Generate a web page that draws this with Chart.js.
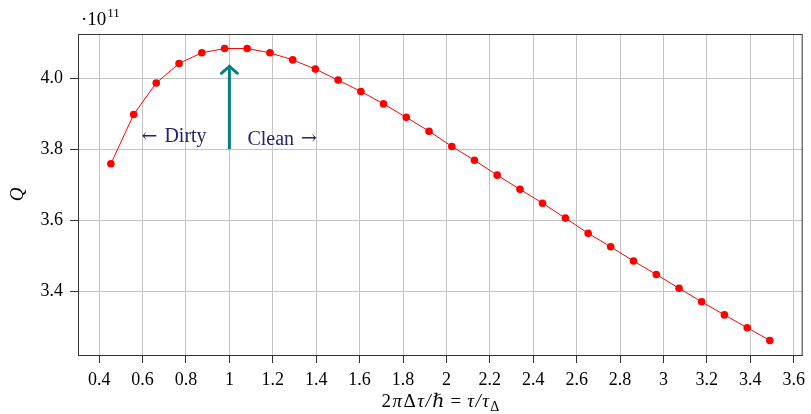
<!DOCTYPE html>
<html>
<head>
<meta charset="utf-8">
<script src="https://cdn.jsdelivr.net/npm/chart.js@4.4.0/dist/chart.umd.min.js"></script>
<style>
  body { margin: 0; background: #fff; }
  canvas { display: block; }
</style>
</head>
<body>
<canvas id="chart" width="811" height="414"></canvas>
<script>
// tau / tau_Delta values
const xValues = [0.454, 0.559, 0.663, 0.768, 0.873, 0.978, 1.082, 1.187, 1.292, 1.396,
                 1.501, 1.606, 1.710, 1.815, 1.920, 2.025, 2.129, 2.234, 2.339, 2.443,
                 2.548, 2.653, 2.757, 2.862, 2.967, 3.072, 3.176, 3.281, 3.386, 3.490];
// Q in units of 1e11
const qValues = [3.759, 3.898, 3.987, 4.042, 4.072, 4.084, 4.084, 4.072, 4.052, 4.026,
                 3.995, 3.963, 3.928, 3.890, 3.851, 3.808, 3.769, 3.727, 3.687, 3.648,
                 3.606, 3.563, 3.525, 3.485, 3.447, 3.408, 3.370, 3.333, 3.297, 3.261];
const xTicks = [0.4, 0.6, 0.8, 1, 1.2, 1.4, 1.6, 1.8, 2, 2.2, 2.4, 2.6, 2.8, 3, 3.2, 3.4, 3.6];
const yTicks = [3.4, 3.6, 3.8, 4.0];
const arrowX = 1;
const arrowFrom = 3.8;
const arrowTo = 4.034;

const FONT = '"Liberation Serif", "DejaVu Serif", serif';
const points = xValues.map((x, i) => ({ x: x, y: qValues[i] }));

// draw a list of [text, font, dy, gapAfter] pieces from x, return end x
function drawPieces(ctx, pieces, x, y, measureOnly) {
  pieces.forEach(p => {
    ctx.font = p[1];
    if (!measureOnly) ctx.fillText(p[0], x, y + (p[2] || 0));
    x += ctx.measureText(p[0]).width + (p[3] || 0);
  });
  return x;
}

const extras = {
  id: 'extras',
  afterDatasetsDraw(chart) {
    const ctx = chart.ctx;
    const xs = chart.scales.x, ys = chart.scales.y;
    const a = chart.chartArea;

    // frame
    ctx.save();
    ctx.strokeStyle = '#333';
    ctx.lineWidth = 1;
    ctx.strokeRect(a.left + 0.5, a.top + 0.5, a.right - a.left - 1, a.bottom - a.top);

    // teal arrow
    const ax = xs.getPixelForValue(arrowX);
    const y0 = ys.getPixelForValue(arrowFrom);
    const y1 = ys.getPixelForValue(arrowTo);
    ctx.strokeStyle = '#008080';
    ctx.lineWidth = 3;
    ctx.lineCap = 'butt';
    ctx.beginPath();
    ctx.moveTo(ax, y0);
    ctx.lineTo(ax, y1 + 1);
    ctx.stroke();
    ctx.lineCap = 'round';
    ctx.beginPath();
    ctx.moveTo(ax - 8, y1 + 7);
    ctx.quadraticCurveTo(ax - 2, y1 + 2, ax, y1);
    ctx.quadraticCurveTo(ax + 2, y1 + 2, ax + 8, y1 + 7);
    ctx.stroke();

    // annotations
    const arrowFont = '19px "DejaVu Serif", serif';
    const txtFont = '20px ' + FONT;
    ctx.fillStyle = '#23236b';
    ctx.textBaseline = 'middle';
    ctx.textAlign = 'left';
    drawPieces(ctx, [['\u2190', arrowFont, 0, 7], ['Dirty', txtFont, 0, 0]],
      xs.getPixelForValue(0.595), ys.getPixelForValue(3.834));
    drawPieces(ctx, [['Clean', txtFont, 0, 7], ['\u2192', arrowFont, 0, 0]],
      xs.getPixelForValue(1.083), ys.getPixelForValue(3.828));

    // x axis title with subscript
    ctx.fillStyle = '#000';
    ctx.textBaseline = 'alphabetic';
    const rm = '19px ' + FONT, it = 'italic 19px ' + FONT;
    const title = [
      ['2', rm, 0, 1.5], ['\u03c0', it, 0, 1.5], ['\u0394', rm, 0, 1.5], ['\u03c4', it, 0, 1.5],
      ['/', it, 0, 1.5], ['\u210f', it, 0, 6], ['=', rm, 0, 6], ['\u03c4', it, 0, 1.5],
      ['/', it, 0, 1.5], ['\u03c4', it, 0, 1], ['\u0394', '14px ' + FONT, 4, 0]
    ];
    const total = drawPieces(ctx, title, 0, 0, true);
    drawPieces(ctx, title, (a.left + a.right) / 2 - total / 2, 407);

    // y axis title
    ctx.save();
    ctx.translate(18, (a.top + a.bottom) / 2);
    ctx.rotate(-Math.PI / 2);
    ctx.font = 'italic 19px ' + FONT;
    ctx.textAlign = 'center';
    ctx.textBaseline = 'middle';
    ctx.fillText('Q', 0, 0);
    ctx.restore();

    // exponent
    ctx.textAlign = 'left';
    drawPieces(ctx, [['\u00b710', '19px ' + FONT, 0, 1], ['11', '13px ' + FONT, -8, 0]], 81, 25);
    ctx.restore();
  }
};

new Chart(document.getElementById('chart'), {
  type: 'line',
  data: {
    datasets: [{
      data: points,
      borderColor: '#ff0000',
      backgroundColor: '#ff0000',
      borderWidth: 1,
      pointRadius: 3.8,
      pointBorderWidth: 0,
      tension: 0
    }]
  },
  options: {
    responsive: false,
    animation: false,
    layout: { padding: { left: 0, right: 6, top: 34, bottom: 0 } },
    plugins: { legend: { display: false }, tooltip: { enabled: false } },
    scales: {
      x: {
        type: 'linear',
        min: 0.3025,
        max: 3.6415,
        afterBuildTicks: s => { s.ticks = xTicks.map(v => ({ value: v })); },
        afterFit: s => { s.height = 59; },
        ticks: {
          callback: v => String(+v.toFixed(1)),
          font: { family: FONT, size: 18 },
          color: '#000',
          padding: 6,
          maxRotation: 0,
          autoSkip: false
        },
        grid: { color: '#c4c4c4', tickColor: '#333', tickLength: 8 },
        border: { display: true, color: '#333' }
      },
      y: {
        min: 3.220,
        max: 4.125,
        afterBuildTicks: s => { s.ticks = yTicks.map(v => ({ value: v })); },
        afterFit: s => { s.width = 78; },
        ticks: {
          callback: v => v.toFixed(1),
          font: { family: FONT, size: 18 },
          color: '#000',
          padding: 7
        },
        grid: { color: '#c4c4c4', tickColor: '#333', tickLength: 8 },
        border: { display: true, color: '#333' }
      }
    }
  },
  plugins: [extras]
});
</script>
</body>
</html>
